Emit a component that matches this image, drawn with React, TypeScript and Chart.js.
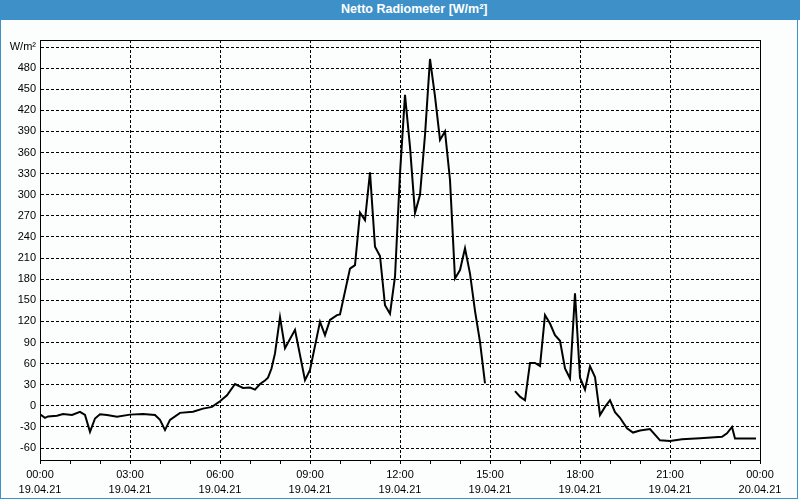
import React, { useEffect, useRef } from "react";
import { Chart, registerables } from "chart.js";

Chart.register(...registerables);

// minutes since 00:00 on 19.04.21
const sampleMinutes = [
  0, 10, 16, 34, 46, 64, 80, 90, 100, 110, 120, 134, 154, 180, 206, 230, 240, 250, 260, 280,
  306, 326, 344, 360, 374, 390, 406, 420, 430, 440, 450, 456, 463, 470, 480, 490, 510, 530,
  540, 560, 570, 580, 594, 600, 620, 630, 640, 650, 660, 670, 680, 690, 700, 710, 720, 730,
  740, 750, 760, 770, 780, 790, 800, 810, 820, 830, 840, 850, 860, 870, 880, 890, 920, 950,
  960, 970, 980, 990, 1000, 1010, 1020, 1030, 1040, 1050, 1060, 1070, 1080, 1090, 1100, 1110,
  1120, 1130, 1140, 1150, 1160, 1174, 1186, 1200, 1220, 1240, 1260, 1284, 1320, 1364, 1374,
  1384, 1390, 1432,
];

// W/m² (null = missing data)
const nettoValues: (number | null)[] = [
  -12, -17, -15, -14, -11.5, -13, -8.5, -13, -37, -18, -12, -13, -15.5, -12.5, -11.5, -13, -20, -34.5, -20, -10,
  -8.5, -4, -1.5, 6.5, 15, 31, 25.5, 26, 23, 31, 36, 40, 53, 74.5, 126, 82, 108, 36.5,
  51, 119.5, 100.5, 122, 129, 130, 195, 200, 274.5, 264, 332, 226, 213, 143, 131, 183.5, 330, 442,
  368, 274, 300, 385, 493, 440, 378, 390, 321, 181, 193, 224, 188, 135, 91, 32, null, 21,
  13, 8, 61, 61, 56.5, 129, 117, 100.5, 92.5, 53, 39, 160, 40, 23, 56.5, 41,
  -13, -1.5, 8, -9, -17, -32, -38, -35, -33, -49, -50, -47.5, -46, -44, -39,
  -30, -46.5, -46.5,
];

const yTickValues = [-60, -30, 0, 30, 60, 90, 120, 150, 180, 210, 240, 270, 300, 330, 360, 390, 420, 450, 480, 510];
const yUnitLabel = "W/m²";
const xTickHours = [0, 1, 2, 3, 4, 5, 6, 7, 8, 9, 10, 11, 12, 13, 14, 15, 16, 17, 18, 19, 20, 21, 22, 23, 24];
const timeLabels = ["00:00", "03:00", "06:00", "09:00", "12:00", "15:00", "18:00", "21:00", "00:00"];
const dateLabels = ["19.04.21", "19.04.21", "19.04.21", "19.04.21", "19.04.21", "19.04.21", "19.04.21", "19.04.21", "20.04.21"];
const chartTitle = "Netto Radiometer [W/m²]";

const BLUE = "#3d90c8";
const FONT = "'Liberation Sans', Arial, sans-serif";

const framePlugin = {
  id: "frame",
  afterDraw(chart: any) {
    const { ctx, chartArea } = chart;
    ctx.save();
    ctx.strokeStyle = "#000";
    ctx.lineWidth = 1;
    ctx.setLineDash([]);
    const l = Math.round(chartArea.left) + 0.5;
    const t = Math.round(chartArea.top) + 0.5;
    const r = Math.round(chartArea.right) + 0.5;
    const b = Math.round(chartArea.bottom) + 0.5;
    ctx.strokeRect(l, t, r - l, b - t);
    ctx.restore();
  },
};

export default function App() {
  const ref = useRef<HTMLCanvasElement>(null);

  useEffect(() => {
    document.body.style.margin = "0";
    const points = sampleMinutes.map((m, i) => ({ x: m / 60, y: nettoValues[i] }));
    const chart = new Chart(ref.current as HTMLCanvasElement, {
      type: "line",
      data: {
        datasets: [
          {
            data: points as any,
            borderColor: "#000",
            borderWidth: 2,
            pointRadius: 0,
            tension: 0,
            fill: false,
            spanGaps: false,
          },
        ],
      },
      options: {
        animation: false,
        responsive: false,
        maintainAspectRatio: false,
        layout: { padding: { top: 40, right: 40, left: 0, bottom: 0 } },
        plugins: { legend: { display: false }, tooltip: { enabled: false }, title: { display: false } },
        scales: {
          x: {
            type: "linear",
            min: 0,
            max: 24,
            afterBuildTicks: (s: any) => {
              s.ticks = xTickHours.map((v) => ({ value: v }));
            },
            afterFit: (s: any) => {
              s.height = 40;
            },
            grid: {
              color: (c: any) => (c.tick && c.tick.value % 3 === 0 ? "#000" : "rgba(0,0,0,0)"),
              lineWidth: 1,
              drawTicks: true,
              tickLength: 4,
              tickColor: "#000",
              tickWidth: 1,
            },
            border: { display: true, color: "#000", width: 1, dash: [3, 2] },
            ticks: {
              autoSkip: false,
              maxRotation: 0,
              minRotation: 0,
              padding: 3,
              color: "#000",
              font: { family: FONT, size: 11, lineHeight: "15px" as any },
              callback: (v: any) => {
                const n = Number(v);
                if (n % 3 !== 0) return "";
                const idx = n / 3;
                return [timeLabels[idx], dateLabels[idx]];
              },
            },
          },
          y: {
            type: "linear",
            min: -77,
            max: 520,
            afterBuildTicks: (s: any) => {
              s.ticks = yTickValues.map((v) => ({ value: v }));
            },
            afterFit: (s: any) => {
              s.width = 40;
            },
            grid: { color: "#000", lineWidth: 1, drawTicks: false },
            border: { display: true, color: "#000", width: 1, dash: [3, 2] },
            ticks: {
              padding: 4,
              color: "#000",
              font: { family: FONT, size: 11 },
              callback: (v: any) => (Number(v) === 510 ? yUnitLabel : String(v)),
            },
          },
        },
      },
      plugins: [framePlugin],
    });
    return () => chart.destroy();
  }, []);

  return (
    <div style={{ position: "relative", width: 800, height: 500, background: "#fcfefd", overflow: "hidden" }}>
      <canvas
        ref={ref}
        width={800}
        height={500}
        style={{ position: "absolute", left: 0, top: 0, width: 800, height: 500 }}
      />
      <div
        style={{
          position: "absolute",
          left: 0,
          top: 0,
          width: 800,
          height: 20,
          background: BLUE,
        }}
      />
      <div
        style={{
          position: "absolute",
          left: 341,
          top: 0,
          height: 20,
          lineHeight: "19px",
          color: "#fff",
          fontFamily: FONT,
          fontWeight: "bold",
          fontSize: 12.5,
          whiteSpace: "nowrap",
        }}
      >
        {chartTitle}
      </div>
      <div
        style={{
          position: "absolute",
          left: 0,
          top: 0,
          width: 798,
          height: 499,
          boxSizing: "border-box",
          border: `1px solid ${BLUE}`,
          pointerEvents: "none",
        }}
      />
    </div>
  );
}
